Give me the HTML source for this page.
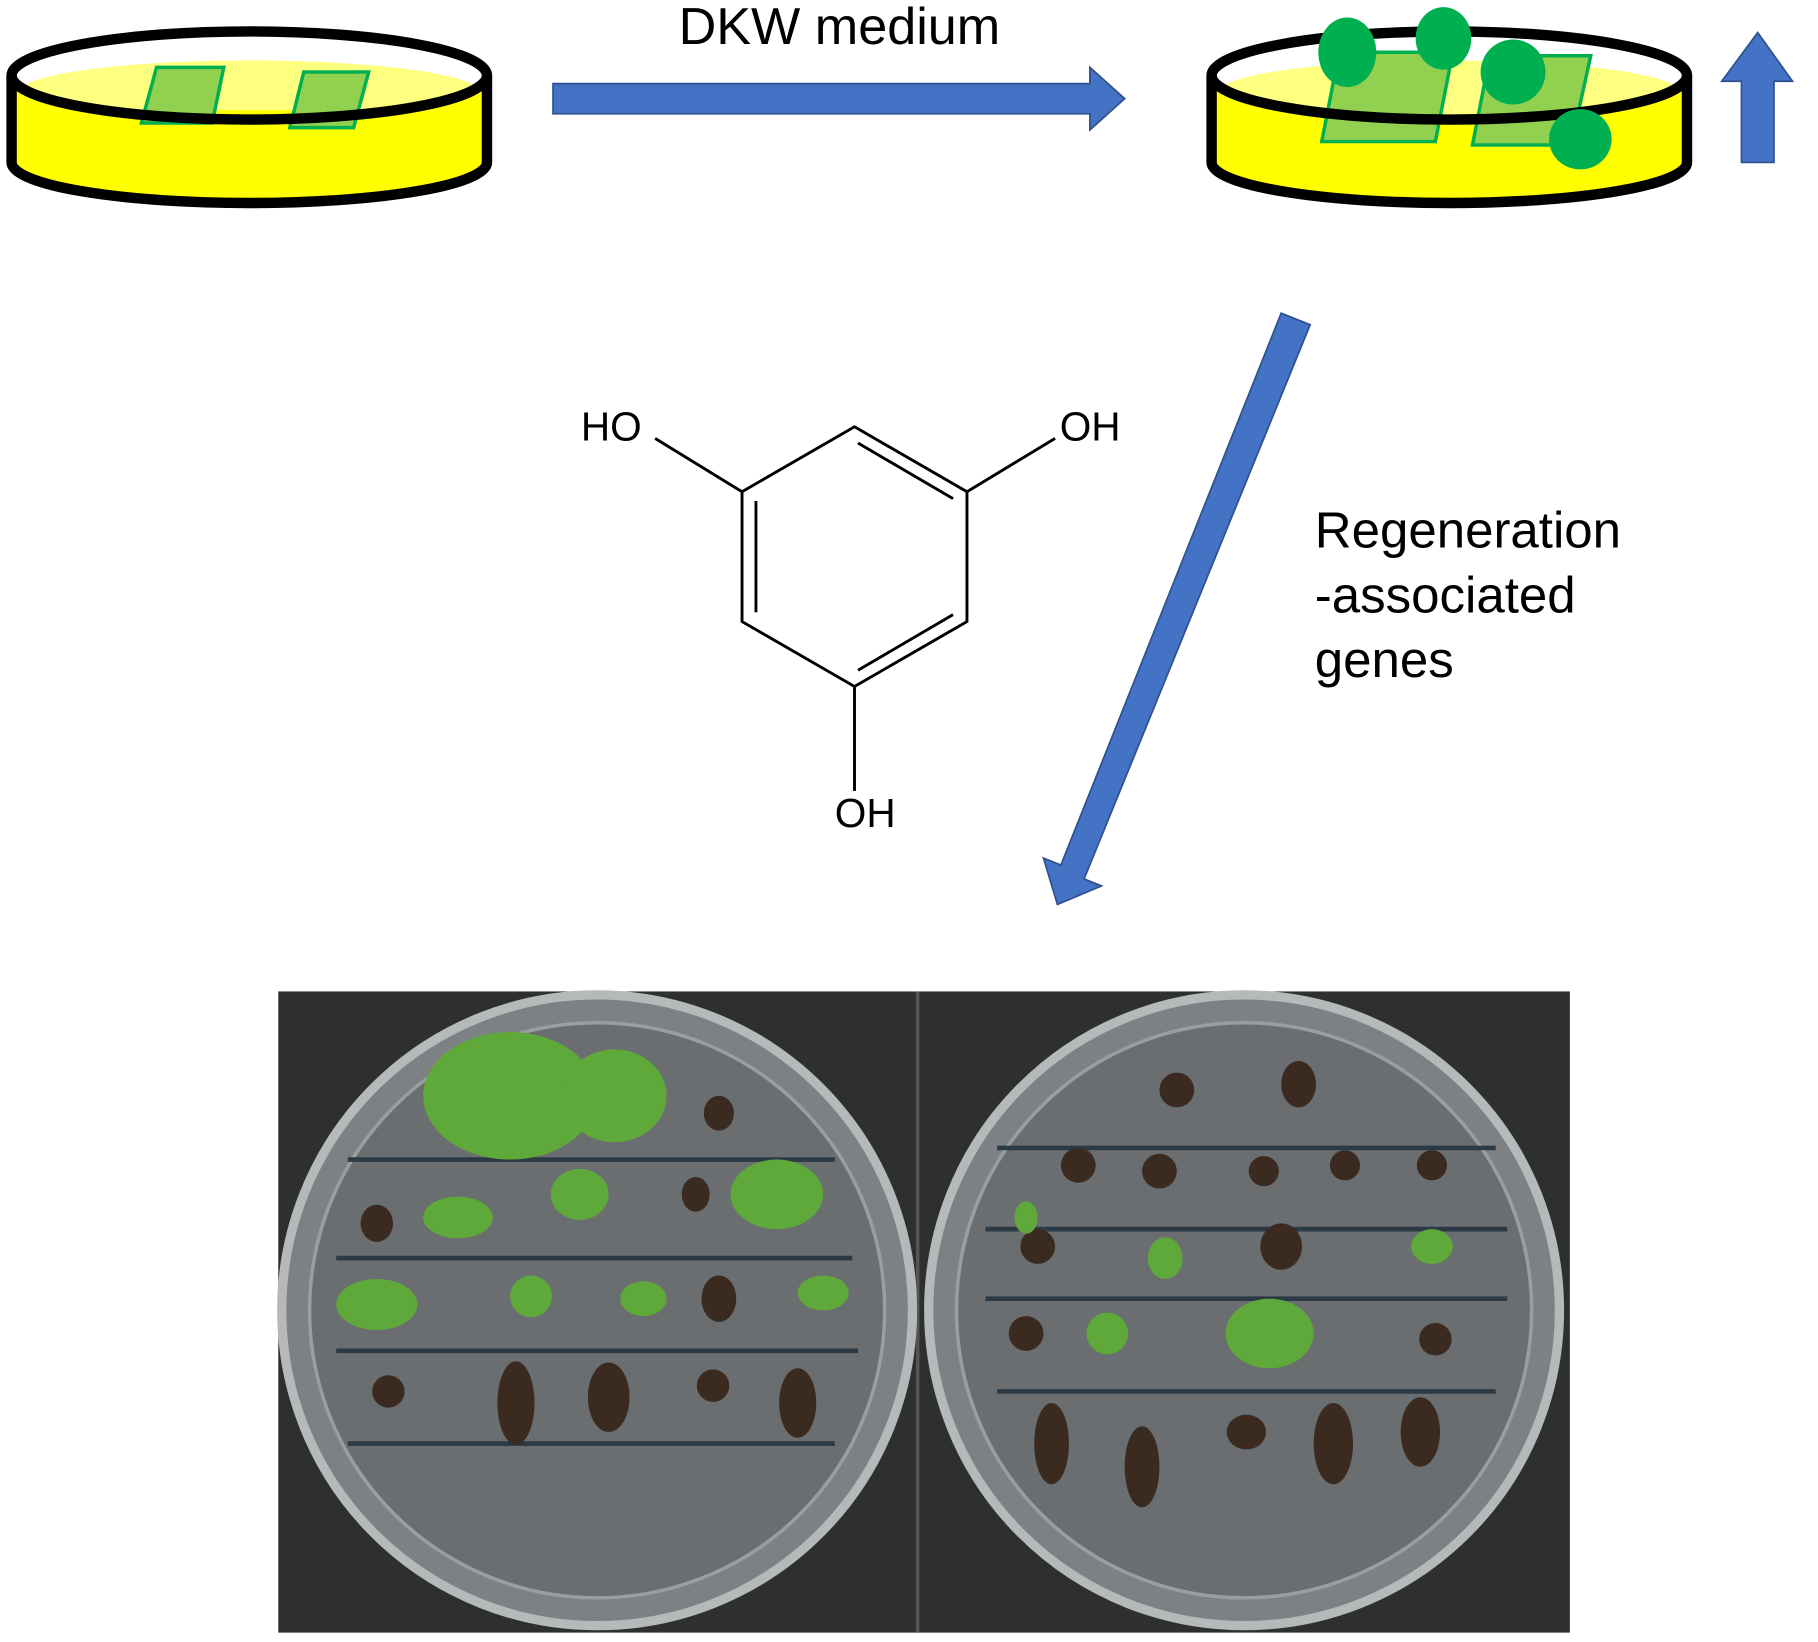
<!DOCTYPE html>
<html><head><style>html,body{margin:0;padding:0;background:#fff}svg{display:block}</style></head>
<body>
<svg width="1818" height="1642" viewBox="0 0 1568 1416" xmlns="http://www.w3.org/2000/svg" font-family="Liberation Sans, sans-serif">
<defs>
<clipPath id="cl"><ellipse cx="215" cy="65" rx="205" ry="38"/></clipPath>
<clipPath id="cr"><ellipse cx="1250" cy="65" rx="205" ry="38"/></clipPath>
</defs>
<!-- left dish -->
<g>
<path d="M10 65 L10 140 A205 35 0 0 0 420 140 L420 65 Z" fill="#ffff00"/>
<ellipse cx="215" cy="65" rx="205" ry="38" fill="#fff"/>
<ellipse cx="215" cy="80" rx="200" ry="28" fill="#ffff80" clip-path="url(#cl)"/>
<rect x="10" y="95" width="410" height="20" fill="#ffff00"/>
<path d="M135 58 L193 58 L183 106 L122 106 Z" fill="#92d050" stroke="#00b050" stroke-width="3"/>
<path d="M262 62 L318 62 L305 110 L250 110 Z" fill="#92d050" stroke="#00b050" stroke-width="3"/>
<path d="M10 65 L10 140 A205 35 0 0 0 420 140 L420 65" fill="none" stroke="#000" stroke-width="9"/>
<ellipse cx="215" cy="65" rx="205" ry="38" fill="none" stroke="#000" stroke-width="9"/>
</g>
<text x="724" y="38" font-size="45" text-anchor="middle">DKW medium</text>
<path d="M477 72 L940 72 L940 58 L970 85 L940 112 L940 98 L477 98 Z" fill="#4472c4" stroke="#2f528f" stroke-width="1.5"/>
<!-- right dish -->
<g>
<path d="M1045 65 L1045 140 A205 35 0 0 0 1455 140 L1455 65 Z" fill="#ffff00"/>
<ellipse cx="1250" cy="65" rx="205" ry="38" fill="#fff"/>
<ellipse cx="1250" cy="80" rx="200" ry="28" fill="#ffff80" clip-path="url(#cr)"/>
<path d="M1155 45 L1253 45 L1238 122 L1140 122 Z" fill="#92d050" stroke="#00b050" stroke-width="3"/>
<path d="M1285 48 L1372 48 L1355 125 L1270 125 Z" fill="#92d050" stroke="#00b050" stroke-width="3"/>
<path d="M1045 65 L1045 140 A205 35 0 0 0 1455 140 L1455 65" fill="none" stroke="#000" stroke-width="9"/>
<ellipse cx="1250" cy="65" rx="205" ry="38" fill="none" stroke="#000" stroke-width="9"/>
<ellipse cx="1162" cy="45" rx="25" ry="30" fill="#00b050"/>
<ellipse cx="1245" cy="33" rx="24" ry="27" fill="#00b050"/>
<ellipse cx="1305" cy="62" rx="28" ry="28" fill="#00b050"/>
<ellipse cx="1363" cy="120" rx="27" ry="26" fill="#00b050"/>
</g>
<path d="M1502 140 L1502 70 L1485 70 L1516 28 L1546 70 L1530 70 L1530 140 Z" fill="#4472c4" stroke="#2f528f" stroke-width="1.5"/>
<!-- diagonal arrow -->
<path d="M1105 270 L1130 280 L935 758 L950 764 L912 780 L900 740 L915 746 L1105 270 Z" fill="#4472c4" stroke="#2f528f" stroke-width="1.5"/>
<!-- molecule -->
<g stroke="#000" stroke-width="2.5" fill="none">
<path d="M737 368 L834 424 L834 536 L737 592 L640 536 L640 424 Z"/>
<path d="M652 432 L652 528"/>
<path d="M740 382 L822 430"/>
<path d="M740 578 L822 530"/>
<path d="M640 424 L565 378"/>
<path d="M834 424 L910 378"/>
<path d="M737 592 L737 682"/>
</g>
<g font-size="35">
<text x="501" y="380">HO</text>
<text x="914" y="380">OH</text>
<text x="720" y="713">OH</text>
</g>
<g font-size="44">
<text x="1134" y="472">Regeneration</text>
<text x="1134" y="528">-associated</text>
<text x="1134" y="584">genes</text>
</g>
<!-- photo -->
<rect x="240" y="855" width="1114" height="553" fill="#2e2f31"/>
<rect x="790" y="855" width="3" height="553" fill="#555"/>
<circle cx="515" cy="1130" r="272" fill="#7d8183" stroke="#b5b9ba" stroke-width="8"/>
<circle cx="515" cy="1130" r="248" fill="#6a6e70" stroke="#9a9e9f" stroke-width="3"/>
<circle cx="1073" cy="1130" r="272" fill="#7d8183" stroke="#b5b9ba" stroke-width="8"/>
<circle cx="1073" cy="1130" r="248" fill="#6a6e70" stroke="#9a9e9f" stroke-width="3"/>
<g stroke="#2c3a45" stroke-width="4" fill="none">
<path d="M300 1000 L720 1000 M290 1085 L735 1085 M290 1165 L740 1165 M300 1245 L720 1245"/>
<path d="M860 990 L1290 990 M850 1060 L1300 1060 M850 1120 L1300 1120 M860 1200 L1290 1200"/>
</g>
<g fill="#3b2a20">
<ellipse cx="620" cy="960" rx="13" ry="15"/><ellipse cx="600" cy="1030" rx="12" ry="15"/>
<ellipse cx="325" cy="1055" rx="14" ry="16"/><ellipse cx="620" cy="1120" rx="15" ry="20"/>
<ellipse cx="445" cy="1210" rx="16" ry="36"/><ellipse cx="525" cy="1205" rx="18" ry="30"/>
<ellipse cx="615" cy="1195" rx="14" ry="14"/><ellipse cx="688" cy="1210" rx="16" ry="30"/>
<ellipse cx="335" cy="1200" rx="14" ry="14"/>
<ellipse cx="1015" cy="940" rx="15" ry="15"/><ellipse cx="1120" cy="935" rx="15" ry="20"/>
<ellipse cx="930" cy="1005" rx="15" ry="15"/><ellipse cx="1000" cy="1010" rx="15" ry="15"/>
<ellipse cx="1090" cy="1010" rx="13" ry="13"/><ellipse cx="1160" cy="1005" rx="13" ry="13"/>
<ellipse cx="1235" cy="1005" rx="13" ry="13"/><ellipse cx="895" cy="1075" rx="15" ry="15"/>
<ellipse cx="1105" cy="1075" rx="18" ry="20"/><ellipse cx="885" cy="1150" rx="15" ry="15"/>
<ellipse cx="1238" cy="1155" rx="14" ry="14"/><ellipse cx="907" cy="1245" rx="15" ry="35"/>
<ellipse cx="985" cy="1265" rx="15" ry="35"/><ellipse cx="1075" cy="1235" rx="17" ry="15"/>
<ellipse cx="1150" cy="1245" rx="17" ry="35"/><ellipse cx="1225" cy="1235" rx="17" ry="30"/>
</g>
<g fill="#5fa83a">
<ellipse cx="440" cy="945" rx="75" ry="55"/><ellipse cx="530" cy="945" rx="45" ry="40"/>
<ellipse cx="670" cy="1030" rx="40" ry="30"/><ellipse cx="500" cy="1030" rx="25" ry="22"/>
<ellipse cx="395" cy="1050" rx="30" ry="18"/><ellipse cx="325" cy="1125" rx="35" ry="22"/>
<ellipse cx="458" cy="1118" rx="18" ry="18"/><ellipse cx="555" cy="1120" rx="20" ry="15"/>
<ellipse cx="710" cy="1115" rx="22" ry="15"/>
<ellipse cx="1095" cy="1150" rx="38" ry="30"/><ellipse cx="1005" cy="1085" rx="15" ry="18"/>
<ellipse cx="1235" cy="1075" rx="18" ry="15"/><ellipse cx="955" cy="1150" rx="18" ry="18"/>
<ellipse cx="885" cy="1050" rx="10" ry="14"/>
</g>
</svg>
</body></html>
